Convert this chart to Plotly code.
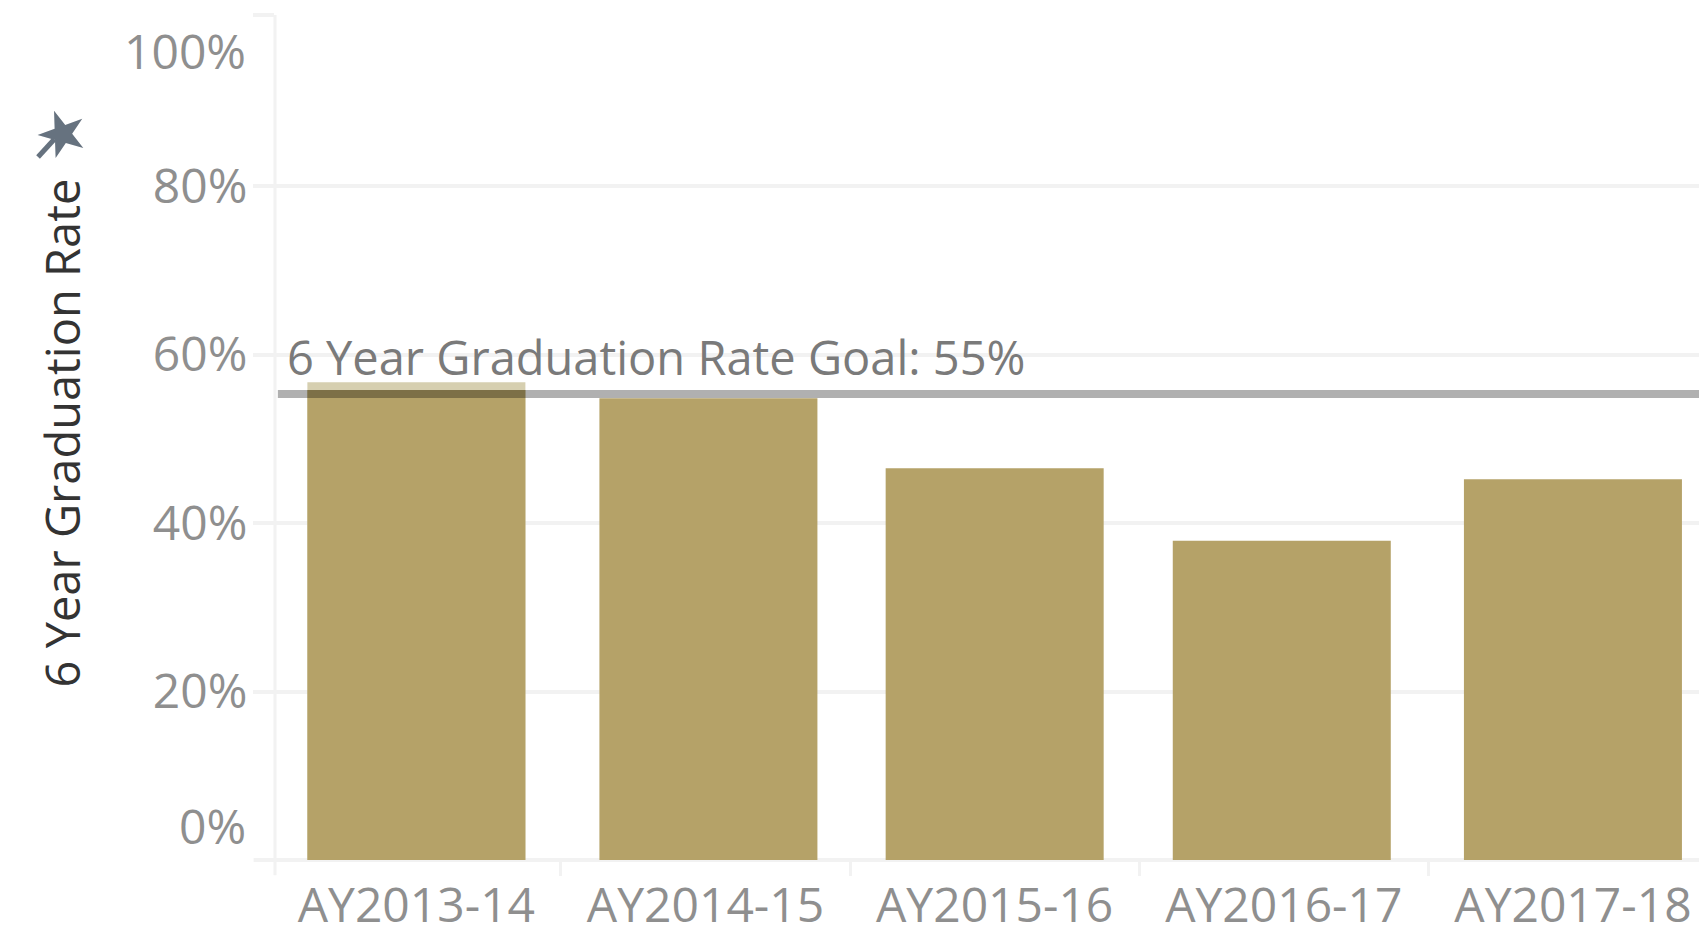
import plotly.graph_objects as go

categories = ["AY2013-14", "AY2014-15", "AY2015-16", "AY2016-17", "AY2017-18"]
rates = [55.8, 54.8, 46.5, 37.9, 45.2]
first_bar_fringe_category = ["AY2013-14"]
first_bar_fringe_top = [56.7]
goal = 55.3
goal_label = "6 Year Graduation Rate Goal: 55%"
y_ticks = [20, 40, 60, 80, 100.3]
y_tick_labels = ["20%", "40%", "60%", "80%", ""]

GRID = "#f2f2f2"
TICK = "#8f8f8f"
FONT = "Open Sans"
BAR_WIDTH = 0.754
bar_offsets = [-0.377, -0.367, -0.377, -0.384, -0.377]

fig = go.Figure()
fig.add_bar(x=first_bar_fringe_category, y=first_bar_fringe_top, width=BAR_WIDTH, offset=bar_offsets[0],
            marker=dict(color="#d6cfb0", line_width=0))
fig.add_bar(x=categories, y=rates, width=BAR_WIDTH, offset=bar_offsets,
            marker=dict(color="#b5a268", line_width=0))
fig.update_layout(
    width=1699, height=928, autosize=False, barmode="overlay",
    margin=dict(l=275, r=0, t=15, b=68, autoexpand=False),
    plot_bgcolor="white", paper_bgcolor="white",
    showlegend=False,
    font=dict(family=FONT, size=48, color=TICK),
    xaxis=dict(range=[-0.489, 4.436], type="category", categoryorder="array", categoryarray=categories,
               automargin=False, tickson="boundaries", ticks="outside",
               ticklen=15, tickwidth=3, tickcolor=GRID, showgrid=False, zeroline=False,
               showline=False, tickfont=dict(size=48, color=TICK), ticklabelstandoff=13),
    yaxis=dict(range=[0, 100.3], tickmode="array", tickvals=y_ticks, ticktext=y_tick_labels,
               automargin=False, ticks="outside", ticklen=21, tickwidth=4, tickcolor=GRID, gridcolor=GRID, gridwidth=4,
               zeroline=True, zerolinecolor=GRID, zerolinewidth=4, showline=False,
               tickfont=dict(size=48, color=TICK), ticklabelstandoff=-4),
    shapes=[
        dict(type="line", xref="paper", yref="paper", x0=0, x1=0, y0=-0.018, y1=1,
             line=dict(color=GRID, width=3), layer="below"),
        dict(type="line", xref="paper", yref="paper", x0=-0.015, x1=0, y0=0, y1=0,
             line=dict(color=GRID, width=4), layer="below"),
        dict(type="line", xref="paper", yref="y", x0=0.002, x1=1, y0=goal, y1=goal,
             line=dict(color="rgba(0,0,0,0.31)", width=8)),
        dict(type="line", xref="paper", yref="paper", x0=-0.155, x1=-0.1664, y0=0.853, y1=0.832,
             line=dict(color="#66727f", width=5)),
    ],
    annotations=[
        dict(text=goal_label, xref="paper", yref="y", x=0.007, y=goal, yshift=3, xanchor="left",
             yanchor="bottom", showarrow=False, font=dict(size=47, color="#7a7a7a")),
        dict(text="0%", xref="paper", yref="y", x=0, y=0, xshift=-27, yshift=35, xanchor="right",
             showarrow=False, font=dict(size=48, color=TICK)),
        dict(text="100%", xref="paper", yref="y", x=0, y=100, xshift=-27, yshift=-33, xanchor="right",
             showarrow=False, font=dict(size=48, color=TICK)),
        dict(text="6 Year Graduation Rate", xref="paper", yref="paper", x=-0.1496, y=0.506, xanchor="center",
             yanchor="middle", textangle=-90, showarrow=False, font=dict(size=47, color="#333333")),
        dict(text="★", xref="paper", yref="paper", x=-0.1496, y=0.8615, xanchor="center", yanchor="middle",
             textangle=-20, showarrow=False, font=dict(size=62, color="#66727f", family="DejaVu Sans")),
    ],
)
fig.write_html("out.html", config={"displayModeBar": False},
               post_script="document.body.style.margin='0';document.body.style.overflow='hidden';")
